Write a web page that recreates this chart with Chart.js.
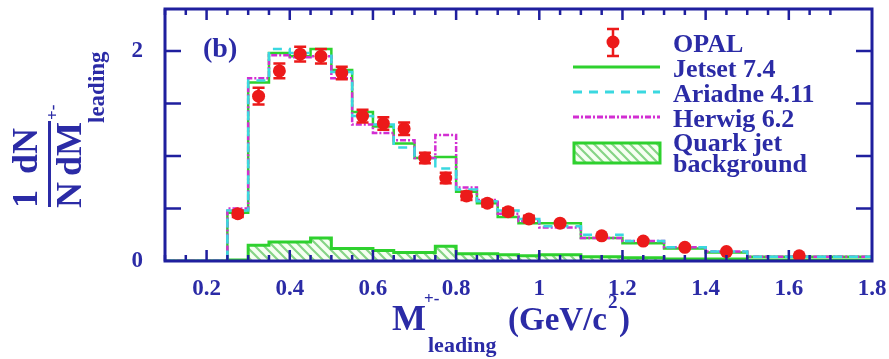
<!DOCTYPE html>
<html>
<head>
<meta charset="utf-8">
<script src="https://cdn.jsdelivr.net/npm/chart.js@4.4.0/dist/chart.umd.min.js"></script>
<style>
  html, body { margin: 0; padding: 0; background: #fff; }
  canvas { display: block; }
</style>
</head>
<body>
<canvas id="chart-mass" width="889" height="359"></canvas>
<script>
// ── Data ──────────────────────────────────────────────────────────────────
const binEdges = [0.25, 0.3, 0.35, 0.4, 0.45, 0.5, 0.55, 0.6, 0.65, 0.7, 0.75,
                  0.8, 0.85, 0.9, 0.95, 1.0, 1.1, 1.2, 1.3, 1.4, 1.5, 1.8];
const jetset  = [0.46, 1.70, 1.98, 1.95, 2.02, 1.82, 1.42, 1.28, 1.12, 0.98, 0.99,
                 0.66, 0.55, 0.42, 0.36, 0.36, 0.22, 0.17, 0.12, 0.08, 0.04];
const ariadne = [0.48, 1.72, 2.02, 1.98, 1.97, 1.80, 1.38, 1.30, 1.08, 1.00, 0.88,
                 0.68, 0.57, 0.48, 0.40, 0.33, 0.25, 0.19, 0.13, 0.09, 0.04];
const herwig  = [0.50, 1.74, 1.96, 1.94, 1.95, 1.74, 1.30, 1.22, 1.15, 0.98, 1.20,
                 0.70, 0.58, 0.45, 0.38, 0.32, 0.22, 0.19, 0.13, 0.09, 0.04];
const quarkBg = [0.01, 0.15, 0.18, 0.18, 0.22, 0.12, 0.12, 0.10, 0.08, 0.08, 0.14,
                 0.07, 0.07, 0.06, 0.05, 0.06, 0.04, 0.03, 0.02, 0.02, 0.01];

const opalX   = [0.275, 0.325, 0.375, 0.425, 0.475, 0.525, 0.575, 0.625, 0.675, 0.725, 0.775,
                 0.825, 0.875, 0.925, 0.975, 1.05, 1.15, 1.25, 1.35, 1.45, 1.625];
const opalY   = [0.45, 1.57, 1.81, 1.97, 1.95, 1.79, 1.38, 1.31, 1.26, 0.98, 0.79,
                 0.62, 0.55, 0.47, 0.40, 0.36, 0.24, 0.19, 0.13, 0.09, 0.05];
const opalErr = [0.03, 0.08, 0.07, 0.07, 0.07, 0.06, 0.06, 0.06, 0.06, 0.05, 0.05,
                 0.04, 0.03, 0.03, 0.03, 0.02, 0.02, 0.02, 0.01, 0.01, 0.01];

const xTickLabels = [0.2, 0.4, 0.6, 0.8, 1, 1.2, 1.4, 1.6, 1.8];
const yTickLabels = [0, 2];

// ── Style ─────────────────────────────────────────────────────────────────
const BLUE  = "#1f1f9e";
const TEXT  = "#2b2ba6";
const RED   = "#ec1a1a";
const GREEN = "#2ed12e";
const CYAN  = "#3ad8e0";
const MAG   = "#d22ed2";
const SERIF = "'Liberation Serif', 'DejaVu Serif', serif";

// step outline: flat at zero up to the first edge, then one level per bin
function histPoints(vals) {
  const pts = [{ x: 0.1, y: 0 }, { x: binEdges[0], y: 0 }];
  vals.forEach((v, i) => pts.push({ x: binEdges[i], y: v }));
  pts.push({ x: binEdges[binEdges.length - 1], y: vals[vals.length - 1] });
  return pts;
}

function hatchPattern() {
  const c = document.createElement("canvas");
  c.width = c.height = 9;
  const g = c.getContext("2d");
  g.fillStyle = "#f6fff2";
  g.fillRect(0, 0, 9, 9);
  g.strokeStyle = "#86d486";
  g.lineWidth = 2.2;
  g.beginPath();
  g.moveTo(-2, -2); g.lineTo(11, 11);
  g.moveTo(-2, 7);  g.lineTo(2, 11);
  g.moveTo(7, -2);  g.lineTo(11, 2);
  g.stroke();
  return g.createPattern(c, "repeat");
}
const HATCH = hatchPattern();

// "before" in Chart.js = run horizontally to the next edge, then jump
const histLine = {
  type: "line",
  showLine: true,
  stepped: "before",
  pointRadius: 0,
  borderWidth: 2.5,
  fill: false,
};

// ── Error bars, drawn just under the OPAL markers ─────────────────────────
const errorBars = {
  id: "errorBars",
  beforeDatasetDraw(chart, args) {
    if (chart.data.datasets[args.index].label !== "OPAL") return;
    const { ctx, scales: { x, y } } = chart;
    ctx.save();
    ctx.strokeStyle = RED;
    ctx.lineWidth = 2.5;
    opalX.forEach((v, i) => {
      const px = x.getPixelForValue(v);
      const lo = y.getPixelForValue(opalY[i] - opalErr[i]);
      const hi = y.getPixelForValue(opalY[i] + opalErr[i]);
      ctx.beginPath();
      ctx.moveTo(px, lo); ctx.lineTo(px, hi);
      if (opalErr[i] >= 0.03) {
        ctx.moveTo(px - 6, lo); ctx.lineTo(px + 6, lo);
        ctx.moveTo(px - 6, hi); ctx.lineTo(px + 6, hi);
      }
      ctx.stroke();
    });
    ctx.restore();
  },
};

// ── Frame, inward ticks, titles and legend ────────────────────────────────
const decorations = {
  id: "decorations",
  afterDraw(chart) {
    const { ctx, chartArea: a, scales: { x, y } } = chart;
    ctx.save();

    // frame
    ctx.strokeStyle = BLUE;
    ctx.lineWidth = 3;
    ctx.strokeRect(a.left, a.top, a.right - a.left, a.bottom - a.top);

    // ticks on all four sides
    ctx.lineWidth = 2.5;
    ctx.beginPath();
    for (let k = 2; k <= 34; k++) {
      const v = k * 0.05;
      const px = x.getPixelForValue(v);
      const len = k % 4 === 0 ? 11 : 6;
      ctx.moveTo(px, a.bottom); ctx.lineTo(px, a.bottom - len);
      ctx.moveTo(px, a.top);    ctx.lineTo(px, a.top + len);
    }
    for (let k = 1; k <= 4; k++) {
      const py = y.getPixelForValue(k * 0.5);
      ctx.moveTo(a.left, py);  ctx.lineTo(a.left + 16, py);
      ctx.moveTo(a.right, py); ctx.lineTo(a.right - 16, py);
    }
    ctx.stroke();

    ctx.fillStyle = TEXT;
    ctx.textAlign = "left";
    ctx.textBaseline = "alphabetic";

    // panel tag
    ctx.font = `bold 28px ${SERIF}`;
    ctx.fillText("(b)", 203, 57);

    // x title
    ctx.font = `bold 36px ${SERIF}`;
    ctx.fillText("M", 392, 330);
    ctx.font = `bold 17px ${SERIF}`;
    ctx.fillText("+-", 424, 304);
    ctx.font = `bold 22px ${SERIF}`;
    ctx.fillText("leading", 428, 352);
    ctx.font = `bold 33px ${SERIF}`;
    ctx.fillText("(GeV/c", 508, 330);
    const w = ctx.measureText("(GeV/c").width;
    ctx.font = `bold 19px ${SERIF}`;
    ctx.fillText("2", 508 + w + 1, 308);
    ctx.font = `bold 33px ${SERIF}`;
    ctx.fillText(")", 508 + w + 12, 330);

    // y title, rotated
    ctx.save();
    ctx.rotate(-Math.PI / 2);
    ctx.font = `bold 36px ${SERIF}`;
    ctx.fillText("1", -208, 37);
    ctx.fillText("dN", -174, 37);
    ctx.fillText("N", -208, 81);
    ctx.fillText("dM", -176, 81);
    ctx.font = `bold 17px ${SERIF}`;
    ctx.fillText("+-", -120, 58);
    ctx.font = `bold 23px ${SERIF}`;
    ctx.fillText("leading", -123, 104);
    ctx.fillRect(-207, 48, 86, 3);
    ctx.restore();

    // legend
    ctx.font = `bold 26px ${SERIF}`;
    ctx.fillText("OPAL", 673, 52);
    ctx.fillText("Jetset 7.4", 673, 77);
    ctx.fillText("Ariadne 4.11", 673, 102);
    ctx.fillText("Herwig 6.2", 673, 127);
    ctx.fillText("Quark jet", 673, 151);
    ctx.fillText("background", 673, 172);

    ctx.strokeStyle = RED;
    ctx.lineWidth = 2.5;
    ctx.beginPath();
    ctx.moveTo(613, 29); ctx.lineTo(613, 56);
    ctx.moveTo(607, 29); ctx.lineTo(619, 29);
    ctx.moveTo(607, 56); ctx.lineTo(619, 56);
    ctx.stroke();
    ctx.fillStyle = RED;
    ctx.beginPath();
    ctx.arc(613, 42, 6.5, 0, Math.PI * 2);
    ctx.fill();

    const sample = (yy, color, dash) => {
      ctx.strokeStyle = color;
      ctx.lineWidth = 3;
      ctx.setLineDash(dash);
      ctx.beginPath();
      ctx.moveTo(573, yy); ctx.lineTo(660, yy);
      ctx.stroke();
    };
    sample(67, GREEN, []);
    sample(92, CYAN, [9, 7]);
    sample(117, MAG, [6, 2, 2, 2]);
    ctx.setLineDash([]);

    ctx.fillStyle = HATCH;
    ctx.fillRect(574, 143, 86, 20);
    ctx.strokeStyle = GREEN;
    ctx.lineWidth = 3;
    ctx.strokeRect(574, 143, 86, 20);

    ctx.restore();
  },
};

// ── Chart ────────────────────────────────────────────────────────────────
new Chart(document.getElementById("chart-mass"), {
  type: "scatter",
  data: {
    datasets: [
      {
        label: "OPAL",
        data: opalX.map((v, i) => ({ x: v, y: opalY[i] })),
        pointRadius: 6.5,
        pointBackgroundColor: RED,
        pointBorderColor: RED,
        pointBorderWidth: 0,
      },
      { ...histLine, label: "Ariadne 4.11", data: histPoints(ariadne), borderColor: CYAN, borderDash: [9, 7] },
      { ...histLine, label: "Herwig 6.2", data: histPoints(herwig), borderColor: MAG, borderDash: [6, 2, 2, 2] },
      { ...histLine, label: "Jetset 7.4", data: histPoints(jetset), borderColor: GREEN },
      {
        ...histLine,
        label: "Quark jet background",
        data: histPoints(quarkBg),
        borderColor: GREEN,
        borderWidth: 3,
        backgroundColor: HATCH,
        fill: "origin",
      },
    ],
  },
  options: {
    responsive: false,
    animation: false,
    devicePixelRatio: 1,
    layout: { padding: { top: 9, right: 17, left: 0, bottom: 0 } },
    plugins: { legend: { display: false }, tooltip: { enabled: false } },
    scales: {
      x: {
        type: "linear",
        min: 0.1,
        max: 1.8,
        grid: { display: false, drawTicks: false },
        border: { display: false },
        afterBuildTicks: s => { s.ticks = xTickLabels.map(v => ({ value: v })); },
        afterFit: s => { s.height = 98; s.paddingLeft = 0; s.paddingRight = 0; },
        ticks: {
          padding: 14,
          maxRotation: 0,
          autoSkip: false,
          color: TEXT,
          font: { family: SERIF, weight: "bold", size: 23 },
          callback: v => String(v),
        },
      },
      y: {
        type: "linear",
        min: 0,
        max: 2.4,
        grid: { display: false, drawTicks: false },
        border: { display: false },
        afterBuildTicks: s => { s.ticks = yTickLabels.map(v => ({ value: v })); },
        afterFit: s => { s.width = 165; s.paddingTop = 0; s.paddingBottom = 0; },
        ticks: {
          padding: 22,
          autoSkip: false,
          color: TEXT,
          font: { family: SERIF, weight: "bold", size: 23 },
          callback: v => String(v),
        },
      },
    },
  },
  plugins: [errorBars, decorations],
});
</script>
</body>
</html>
